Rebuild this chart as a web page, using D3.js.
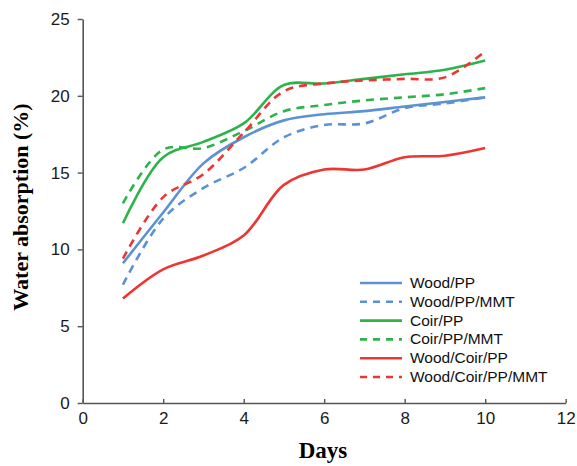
<!DOCTYPE html>
<html>
<head>
<meta charset="utf-8">
<script src="https://cdn.jsdelivr.net/npm/d3@7"></script>
<style>
  body { margin: 0; background: #fff; }
  .tick text { font-family: "Liberation Sans", Arial, sans-serif; font-size: 17px; fill: #1a1a1a; }
</style>
</head>
<body>
<div id="chart"></div>
<script>

// --> DATA

var days = [1, 2, 3, 4, 5, 6, 7, 8, 9, 10];

var woodPP        = [9.1, 12.4, 15.6, 17.3, 18.4, 18.8, 19.0, 19.3, 19.6, 19.9];
var woodPPMMT     = [7.7, 12.0, 14.0, 15.3, 17.3, 18.1, 18.2, 19.2, 19.5, 19.9];
var coirPP        = [11.7, 16.0, 17.0, 18.2, 20.7, 20.8, 21.1, 21.4, 21.7, 22.3];
var coirPPMMT     = [13.0, 16.5, 16.6, 17.7, 19.0, 19.4, 19.7, 19.9, 20.1, 20.5];
var woodCoirPP    = [6.8, 8.7, 9.6, 10.9, 14.2, 15.2, 15.2, 16.0, 16.1, 16.6];
var woodCoirPPMMT = [9.4, 13.4, 14.9, 17.6, 20.3, 20.8, 21.0, 21.1, 21.2, 22.9];

var seriesNames = ["Wood/PP", "Wood/PP/MMT", "Coir/PP", "Coir/PP/MMT", "Wood/Coir/PP", "Wood/Coir/PP/MMT"];
var seriesValues = [woodPP, woodPPMMT, coirPP, coirPPMMT, woodCoirPP, woodCoirPPMMT];
var seriesColors = ["#5b92d4", "#5b92d4", "#2db34a", "#2db34a", "#ed3532", "#ed3532"];
var seriesDashed = [false, true, false, true, false, true];

var xTicks = [0, 2, 4, 6, 8, 10, 12];
var yTicks = [0, 5, 10, 15, 20, 25];

// --> SVG

var width = 577,
    height = 466;

var svg = d3.select("#chart").append("svg")
    .attr("width", width)
    .attr("height", height);

var x = d3.scaleLinear().domain([0, 12]).range([82.7, 565.7]);
var y = d3.scaleLinear().domain([0, 25]).range([403, 19]);

// axes
svg.append("g")
    .attr("transform", "translate(0," + y(0) + ")")
    .call(d3.axisBottom(x).tickValues(xTicks).tickSizeInner(-4).tickSizeOuter(0).tickPadding(9));

svg.append("g")
    .attr("transform", "translate(" + x(0) + ",0)")
    .call(d3.axisLeft(y).tickValues(yTicks).tickSizeInner(5).tickSizeOuter(0).tickPadding(8));

svg.selectAll(".domain").attr("stroke", "#555").attr("stroke-width", 1.6);
svg.selectAll(".tick line").attr("stroke", "#555").attr("stroke-width", 1.4);

// axis titles
svg.append("text")
    .attr("x", 323)
    .attr("y", 458)
    .attr("text-anchor", "middle")
    .style("font-family", "'Liberation Serif', 'Times New Roman', serif")
    .style("font-weight", "bold")
    .style("font-size", "23px")
    .text("Days");

svg.append("text")
    .attr("transform", "translate(28,207) rotate(-90)")
    .attr("text-anchor", "middle")
    .style("font-family", "'Liberation Serif', 'Times New Roman', serif")
    .style("font-weight", "bold")
    .style("font-size", "22px")
    .text("Water absorption (%)");

// lines
var line = d3.line()
    .x(function (d, i) { return x(days[i]); })
    .y(function (d) { return y(d); })
    .curve(d3.curveCatmullRom.alpha(0.5));

seriesValues.forEach(function (vals, k) {
    svg.append("path")
        .datum(vals)
        .attr("fill", "none")
        .attr("stroke", seriesColors[k])
        .attr("stroke-width", 2.6)
        .attr("stroke-dasharray", seriesDashed[k] ? "8,6" : null)
        .attr("d", line);
});

// legend
var legend = svg.append("g").attr("transform", "translate(360,283)");

seriesNames.forEach(function (name, k) {
    var row = legend.append("g").attr("transform", "translate(0," + (k * 18.8) + ")");
    row.append("line")
        .attr("x1", 0).attr("x2", 42)
        .attr("y1", 0).attr("y2", 0)
        .attr("stroke", seriesColors[k])
        .attr("stroke-width", 2.6)
        .attr("stroke-dasharray", seriesDashed[k] ? "7,6" : null);
    row.append("text")
        .attr("x", 50)
        .attr("y", 5)
        .style("font-family", "'Liberation Sans', Arial, sans-serif")
        .style("font-size", "15.5px")
        .style("fill", "#111")
        .text(name);
});

</script>
</body>
</html>
